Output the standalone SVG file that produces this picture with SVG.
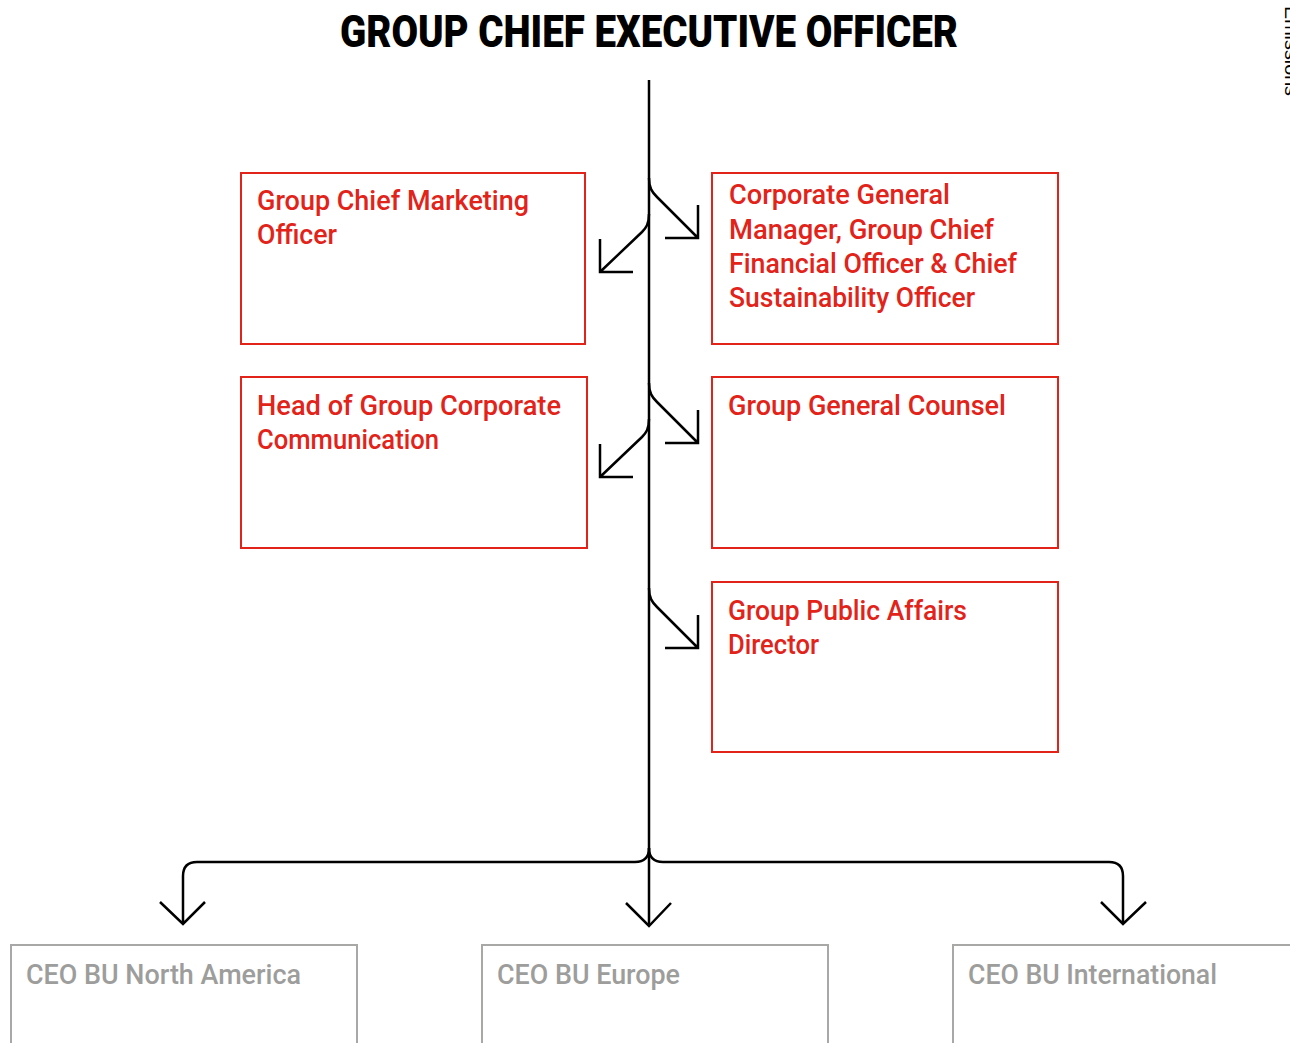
<svg xmlns="http://www.w3.org/2000/svg" width="1290" height="1043" viewBox="0 0 1290 1043">
<style>
.title{font-family:Roboto,"Liberation Sans",Arial,sans-serif;font-weight:900;font-size:44px;fill:#000}
.lbl{font-family:Roboto,"Liberation Sans",Arial,sans-serif;font-weight:500;font-size:28px;fill:#e2231a}
.glbl{font-family:Roboto,"Liberation Sans",Arial,sans-serif;font-weight:500;font-size:28px;fill:#9d9d9c}
.box{fill:none;stroke:#e2231a;stroke-width:2}
.gbox{fill:none;stroke:#a8a8a7;stroke-width:2}
.line{fill:none;stroke:#000;stroke-width:2.5}
.side{font-family:"Liberation Sans",Arial,sans-serif;font-size:18px;fill:#000}
</style>
<rect width="1290" height="1043" fill="#fff"/>
<text class="title" x="649" y="47" text-anchor="middle" textLength="618" lengthAdjust="spacingAndGlyphs">GROUP CHIEF EXECUTIVE OFFICER</text>
<text class="side" transform="translate(1285,6) rotate(90)" textLength="90" lengthAdjust="spacingAndGlyphs">Emissions</text>
<g id="connectors">
<path class="line" d="M649,80 L649,924"/>
<path class="line" d="M649,178 C649,188 652,192 657,197 L698,238 M698,205 L698,238 L665,238"/>
<path class="line" d="M649,214 C649,224 646,228 642,232 L600,272 M600,239 L600,272 L633,272"/>
<path class="line" d="M649,383 C649,393 652,397 657,402 L698,443 M698,410 L698,443 L665,443"/>
<path class="line" d="M649,419 C649,429 646,433 642,437 L600,477 M600,444 L600,477 L633,477"/>
<path class="line" d="M649,588 C649,598 652,602 657,607 L698,648 M698,615 L698,648 L665,648"/>
<path class="line" d="M649,848 Q649,862 635,862 L197,862 Q183,862 183,876 L183,924 M160,902 L183,924 L205,902"/>
<path class="line" d="M649,848 Q649,862 663,862 L1109,862 Q1123,862 1123,876 L1123,924 M1101,902 L1123,924 L1146,902"/>
<path class="line" d="M626,903 L649,926 L671,903"/>
</g>
<g id="cmo">
<rect class="box" x="241" y="173" width="344" height="171"/>
<text class="lbl" x="257" y="210" textLength="272" lengthAdjust="spacingAndGlyphs">Group Chief Marketing</text>
<text class="lbl" x="257" y="244" textLength="80" lengthAdjust="spacingAndGlyphs">Officer</text>
</g>
<g id="cfo">
<rect class="box" x="712" y="173" width="346" height="171"/>
<text class="lbl" x="729" y="204" textLength="221" lengthAdjust="spacingAndGlyphs">Corporate General</text>
<text class="lbl" x="729" y="239" textLength="265" lengthAdjust="spacingAndGlyphs">Manager, Group Chief</text>
<text class="lbl" x="729" y="273" textLength="288" lengthAdjust="spacingAndGlyphs">Financial Officer &amp; Chief</text>
<text class="lbl" x="729" y="307" textLength="246" lengthAdjust="spacingAndGlyphs">Sustainability Officer</text>
</g>
<g id="comm">
<rect class="box" x="241" y="377" width="346" height="171"/>
<text class="lbl" x="257" y="415" textLength="304" lengthAdjust="spacingAndGlyphs">Head of Group Corporate</text>
<text class="lbl" x="257" y="449" textLength="182" lengthAdjust="spacingAndGlyphs">Communication</text>
</g>
<g id="counsel">
<rect class="box" x="712" y="377" width="346" height="171"/>
<text class="lbl" x="728" y="415" textLength="278" lengthAdjust="spacingAndGlyphs">Group General Counsel</text>
</g>
<g id="public">
<rect class="box" x="712" y="582" width="346" height="170"/>
<text class="lbl" x="728" y="620" textLength="239" lengthAdjust="spacingAndGlyphs">Group Public Affairs</text>
<text class="lbl" x="728" y="654" textLength="91" lengthAdjust="spacingAndGlyphs">Director</text>
</g>
<g id="na">
<rect class="gbox" x="11" y="945" width="346" height="110"/>
<text class="glbl" x="26" y="984" textLength="275" lengthAdjust="spacingAndGlyphs">CEO BU North America</text>
</g>
<g id="eu">
<rect class="gbox" x="482" y="945" width="346" height="110"/>
<text class="glbl" x="497" y="984" textLength="183" lengthAdjust="spacingAndGlyphs">CEO BU Europe</text>
</g>
<g id="intl">
<rect class="gbox" x="953" y="945" width="346" height="110"/>
<text class="glbl" x="968" y="984" textLength="249" lengthAdjust="spacingAndGlyphs">CEO BU International</text>
</g>
</svg>
